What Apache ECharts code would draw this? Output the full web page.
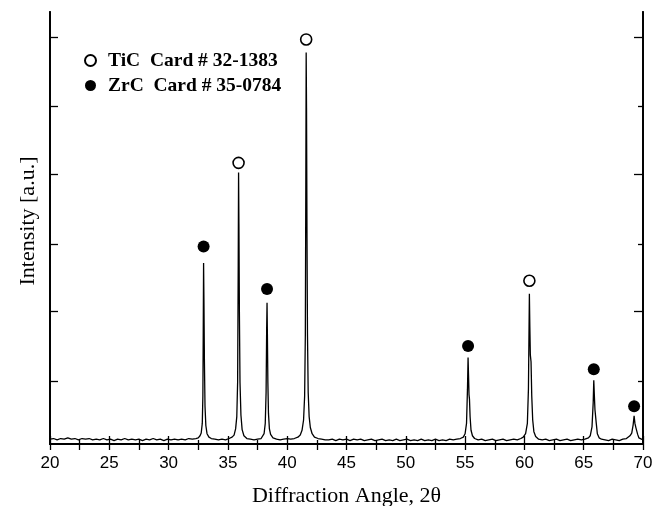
<!DOCTYPE html>
<html>
<head>
<meta charset="utf-8">
<script src="https://cdn.jsdelivr.net/npm/echarts@6/dist/echarts.min.js"></script>
<style>html,body{margin:0;padding:0;background:#fff;}#chart{width:662px;height:506px;}</style>
</head>
<body>
<div id="chart"></div>
<script>
// XRD scan: [2theta, intensity a.u.]
const scan = [
[20.0,.07],[20.3,.08],[20.6,.06],[20.9,.08],[21.2,.07],[21.5,.09],[21.8,.07],[22.1,.08],[22.4,.06],[22.7,.08],
[23.0,.07],[23.3,.08],[23.6,.06],[23.9,.07],[24.2,.06],[24.5,.08],[24.8,.06],[25.1,.07],[25.4,.05],[25.7,.07],
[26.0,.06],[26.3,.08],[26.6,.06],[26.9,.07],[27.2,.06],[27.5,.07],[27.8,.05],[28.1,.07],[28.4,.06],[28.7,.08],
[29.0,.06],[29.3,.07],[29.6,.05],[29.9,.07],[30.2,.06],[30.5,.07],[30.8,.06],[31.1,.07],[31.4,.06],[31.7,.08],
[32.0,.07],[32.3,.08],
[32.5,.09],[32.65,.12],[32.75,.16],[32.84,.3],[32.89,.7],[32.92,1.6],[32.95,2.64],[32.98,2.1],[33.02,1.2],[33.07,.55],
[33.14,.27],[33.24,.15],[33.4,.10],[33.6,.08],[33.9,.07],
[34.2,.06],[34.5,.07],[34.8,.06],[35.1,.08],
[35.35,.10],[35.52,.13],[35.65,.22],[35.75,.40],[35.82,.9],[35.87,2.6],[35.9,3.96],[35.93,3.2],[35.97,1.9],[36.02,.9],
[36.1,.42],[36.2,.21],[36.35,.12],[36.6,.08],[36.9,.07],
[37.2,.06],[37.5,.07],[37.8,.08],
[37.95,.10],[38.05,.15],[38.15,.30],[38.22,.75],[38.27,1.7],[38.3,2.06],[38.33,1.6],[38.37,.9],[38.42,.45],[38.5,.22],
[38.6,.14],[38.8,.09],[39.1,.07],
[39.4,.06],[39.7,.07],[40.0,.08],[40.3,.07],[40.6,.08],[40.9,.10],
[41.1,.13],[41.25,.2],[41.38,.35],[41.47,.7],[41.53,1.6],[41.57,3.8],[41.6,5.71],[41.63,4.9],[41.67,3.0],[41.71,1.6],
[41.77,.75],[41.85,.4],[41.95,.24],[42.1,.15],[42.3,.10],[42.6,.08],
[42.9,.07],[43.2,.06],[43.5,.06],[43.8,.07],[44.1,.05],[44.4,.07],[44.7,.06],[45.0,.07],[45.3,.05],[45.6,.07],
[45.9,.06],[46.2,.07],[46.5,.05],[46.8,.06],[47.1,.07],[47.4,.05],[47.7,.06],[48.0,.07],[48.3,.05],[48.6,.06],
[48.9,.05],[49.2,.07],[49.5,.05],[49.8,.06],[50.1,.07],[50.4,.05],[50.7,.06],[51.0,.05],[51.3,.07],[51.6,.05],
[51.9,.06],[52.2,.05],[52.5,.07],[52.8,.05],[53.1,.06],[53.4,.05],[53.7,.07],[54.0,.06],[54.3,.07],[54.6,.08],
[54.85,.10],[55.0,.15],[55.12,.3],[55.2,.8],[55.25,1.26],[55.29,1.0],[55.33,.72],[55.37,.65],[55.42,.4],[55.5,.2],
[55.62,.12],[55.8,.08],[56.1,.06],
[56.4,.07],[56.7,.05],[57.0,.06],[57.3,.07],[57.6,.05],[57.9,.06],[58.2,.07],[58.5,.05],[58.8,.06],[59.1,.07],
[59.4,.06],[59.7,.08],
[59.9,.10],[60.1,.15],[60.25,.3],[60.34,.8],[60.42,2.19],[60.46,1.7],[60.5,1.3],[60.56,1.2],[60.62,.7],[60.7,.35],
[60.8,.18],[60.95,.11],[61.2,.07],
[61.5,.06],[61.8,.07],[62.1,.05],[62.4,.06],[62.7,.07],[63.0,.05],[63.3,.06],[63.6,.07],[63.9,.05],[64.2,.06],
[64.5,.07],[64.8,.06],[65.1,.07],[65.4,.09],
[65.55,.12],[65.7,.25],[65.8,.6],[65.85,.93],[65.9,.7],[65.95,.5],[66.0,.48],[66.06,.3],[66.15,.15],[66.3,.09],
[66.5,.07],
[66.8,.06],[67.1,.05],[67.4,.07],[67.7,.06],[68.0,.05],[68.3,.07],[68.6,.08],[68.9,.12],
[69.05,.16],[69.17,.28],[69.25,.41],[69.32,.30],[69.4,.24],[69.46,.22],[69.55,.14],[69.65,.09],[69.8,.07],[70.0,.06]
];
// peak markers [2theta, marker height]
const tiCPeaks = [[35.9,4.10],[41.6,5.90],[60.42,2.38]];
const zrCPeaks = [[32.95,2.88],[38.3,2.26],[55.25,1.43],[65.85,1.09],[69.25,0.55]];
const seriesNames = ['TiC  Card # 32-1383', 'ZrC  Card # 35-0784'];
const xTitle = 'Diffraction Angle, 2\u03B8';
const yTitle = 'Intensity [a.u.]';
const yMajorTicks = [1.93, 3.93, 5.93];
const yMinorTicks = [0.92, 2.92, 4.92];

const chart = echarts.init(document.getElementById('chart'), null, {renderer: 'canvas'});
const axisLine = {show: true, lineStyle: {color: '#000', width: 1.8}};
const tickStyle = {color: '#000', width: 1.3};
const yBase = {type: 'value', min: 0, max: 6.3, splitLine: {show: false}, axisLabel: {show: false}, axisLine: axisLine};
chart.setOption({
  animation: false,
  backgroundColor: '#fff',
  grid: {left: 50, right: 19, top: 12, bottom: 62, containLabel: false, outerBoundsMode: 'none'},
  legend: {
    left: 84, top: 50, orient: 'vertical', padding: 0, itemGap: 4,
    itemWidth: 11, itemHeight: 11,
    textStyle: {fontFamily: 'Liberation Serif', fontWeight: 'bold', fontSize: 19.5, color: '#000', lineHeight: 21, padding: [0, 0, 0, 7]},
    data: seriesNames
  },
  xAxis: [
    {type: 'value', min: 20, max: 70, interval: 5, position: 'bottom',
     name: xTitle, nameLocation: 'middle', nameGap: 41,
     nameTextStyle: {fontFamily: 'Liberation Serif', fontSize: 22, color: '#000'},
     axisLine: axisLine, splitLine: {show: false},
     axisTick: {inside: true, length: 8, lineStyle: tickStyle},
     minorTick: {show: true, splitNumber: 2, length: 4, lineStyle: tickStyle},
     axisLabel: {margin: 11, fontFamily: 'Liberation Sans', fontSize: 17, color: '#000'}},
    {type: 'value', min: 20, max: 70, interval: 5, position: 'top',
     axisLine: axisLine, splitLine: {show: false}, axisLabel: {show: false},
     axisTick: {inside: true, length: 6, lineStyle: tickStyle},
     minorTick: {show: true, splitNumber: 2, length: 6, lineStyle: tickStyle}}
  ],
  yAxis: [
    Object.assign({}, yBase, {position: 'left', name: yTitle, nameLocation: 'middle', nameGap: 11,
      nameTextStyle: {fontFamily: 'Liberation Serif', fontSize: 22, color: '#000', padding: [0, 0, 0, 14]},
      axisTick: {inside: true, length: 8, customValues: yMajorTicks, lineStyle: tickStyle}}),
    Object.assign({}, yBase, {position: 'left',
      axisTick: {inside: true, length: 8, customValues: yMinorTicks, lineStyle: tickStyle}}),
    Object.assign({}, yBase, {position: 'right',
      axisTick: {inside: true, length: 9, customValues: yMajorTicks, lineStyle: tickStyle}}),
    Object.assign({}, yBase, {position: 'right',
      axisTick: {inside: true, length: 5, customValues: yMinorTicks, lineStyle: tickStyle}})
  ],
  series: [
    {type: 'line', name: 'scan', data: scan, xAxisIndex: 0, yAxisIndex: 0, showSymbol: false, symbol: 'none',
     lineStyle: {color: '#000', width: 1.3}, z: 2, silent: true},
    {type: 'scatter', name: seriesNames[0], data: tiCPeaks, symbol: 'circle', symbolSize: 11,
     itemStyle: {color: '#fff', borderColor: '#000', borderWidth: 1.6, opacity: 1}, z: 3},
    {type: 'scatter', name: seriesNames[1], data: zrCPeaks, symbol: 'circle', symbolSize: 12,
     itemStyle: {color: '#000', borderColor: '#000', borderWidth: 0, opacity: 1}, z: 3}
  ]
});
</script>
</body>
</html>
